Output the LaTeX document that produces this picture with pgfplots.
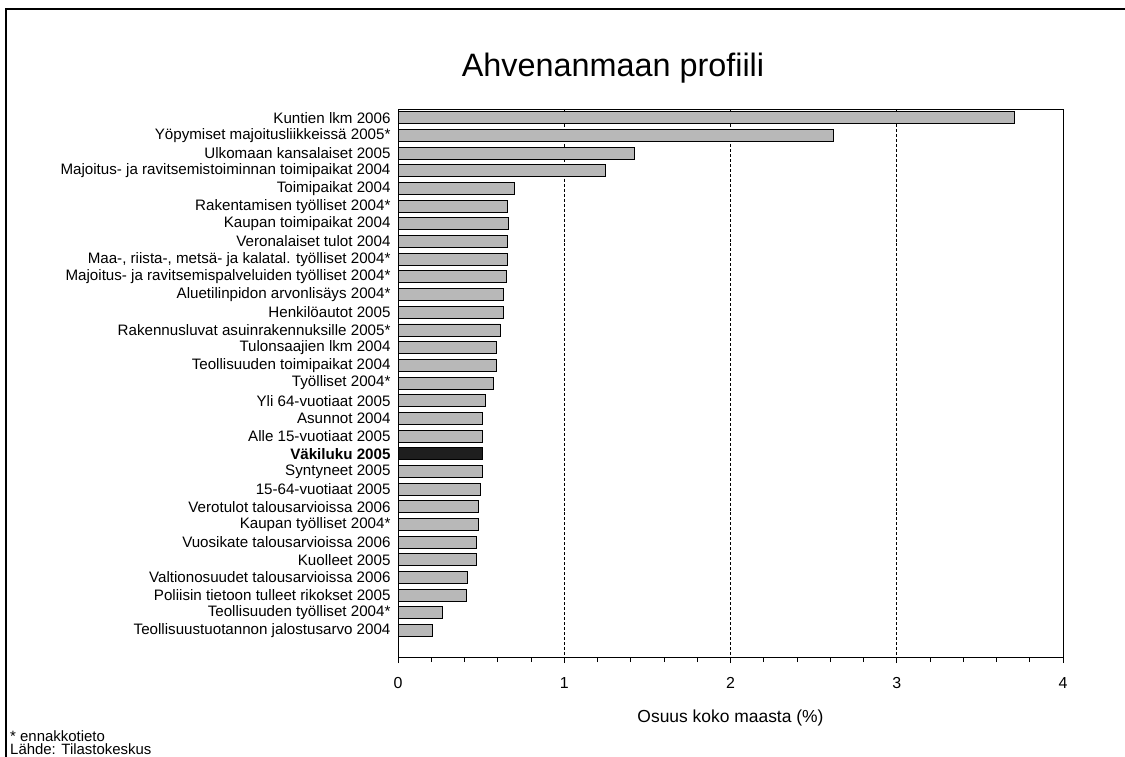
\documentclass[border=0pt]{standalone}
\usepackage{fontspec}
\setmainfont{Liberation Sans}
\usepackage{pgfplots}
\pgfplotsset{compat=1.18}

\begin{document}
\begin{tikzpicture}

	\definecolor{barfill}{RGB}{184,184,184}
	\definecolor{bardark}{RGB}{30,30,30}

	\path[use as bounding box] (0,0) rectangle (1125bp,757bp);
	% frame of the page (top and left edge)
	\draw[line width=1.2bp] (6bp,0) -- (6bp,748bp) -- (1125bp,748bp);

	\node[font=\fontsize{32.5}{38}\selectfont] at (613bp,689bp) {Ahvenanmaan profiili};

	\begin{axis}[
		scale only axis,
		width=665bp, height=548bp,
		at={(398bp,100bp)}, anchor=south west,
		xbar, bar width=12bp,
		xmin=0, xmax=4,
		ymin=-0.5, ymax=30.5,
		y dir=reverse,
		axis line style={line width=1bp},
		xtick={0,1,2,3,4},
		minor x tick num=4,
		tick align=outside,
		tick pos=left,
		major tick length=6bp,
		minor tick length=5bp,
		every tick/.style={black, line width=0.8bp},
		xmajorgrids,
		x grid style={black, densely dashed, line width=0.6bp},
		/pgf/number format/assume math mode=true,
		xticklabel style={font=\fontsize{16}{19}\selectfont, yshift=-11bp},
		ytick={0,...,30},
		ytick style={draw=none},
		yticklabel style={font=\fontsize{15.2}{18}\selectfont, xshift=2bp},
		yticklabels={
			Kuntien lkm 2006,
			Yöpymiset majoitusliikkeissä 2005*,
			Ulkomaan kansalaiset 2005,
			Majoitus- ja ravitsemistoiminnan toimipaikat 2004,
			Toimipaikat 2004,
			Rakentamisen työlliset 2004*,
			Kaupan toimipaikat 2004,
			Veronalaiset tulot 2004,
			{Maa-, riista-, metsä- ja kalatal. työlliset 2004*},
			Majoitus- ja ravitsemispalveluiden työlliset 2004*,
			Aluetilinpidon arvonlisäys 2004*,
			Henkilöautot 2005,
			Rakennusluvat asuinrakennuksille 2005*,
			Tulonsaajien lkm 2004,
			Teollisuuden toimipaikat 2004,
			Työlliset 2004*,
			Yli 64-vuotiaat 2005,
			Asunnot 2004,
			Alle 15-vuotiaat 2005,
			\textbf{Väkiluku 2005},
			Syntyneet 2005,
			15-64-vuotiaat 2005,
			Verotulot talousarvioissa 2006,
			Kaupan työlliset 2004*,
			Vuosikate talousarvioissa 2006,
			Kuolleet 2005,
			Valtionosuudet talousarvioissa 2006,
			Poliisin tietoon tulleet rikokset 2005,
			Teollisuuden työlliset 2004*,
			Teollisuustuotannon jalostusarvo 2004
		},
		xlabel={Osuus koko maasta (\%)},
		every axis x label/.style={at={(axis description cs:0.5,0)}, yshift=-61bp, anchor=center, font=\fontsize{17.5}{20}\selectfont},
		]
		\addplot [draw=black, line width=0.9bp, fill=barfill, bar shift=0pt]
		coordinates {
			(3.71,0) (2.62,1) (1.42,2) (1.25,3) (0.70,4) (0.66,5)
			(0.665,6) (0.66,7) (0.656,8) (0.654,9) (0.634,10) (0.634,11)
			(0.614,12) (0.594,13) (0.594,14) (0.574,15) (0.528,16) (0.508,17)
			(0.508,18) (0.508,20) (0.498,21) (0.486,22) (0.486,23)
			(0.47,24) (0.47,25) (0.42,26) (0.412,27) (0.27,28) (0.21,29)
		};
		\addplot [draw=black, line width=0.9bp, fill=bardark, bar shift=0pt]
		coordinates {(0.51,19)};
	\end{axis}

	\node[anchor=west, inner sep=0pt, font=\fontsize{15}{18}\selectfont] at (10bp,20.5bp) {* ennakkotieto};
	\node[anchor=west, inner sep=0pt, font=\fontsize{15}{18}\selectfont] at (10bp,7.5bp) {Lähde: Tilastokeskus};

\end{tikzpicture}
\end{document}
